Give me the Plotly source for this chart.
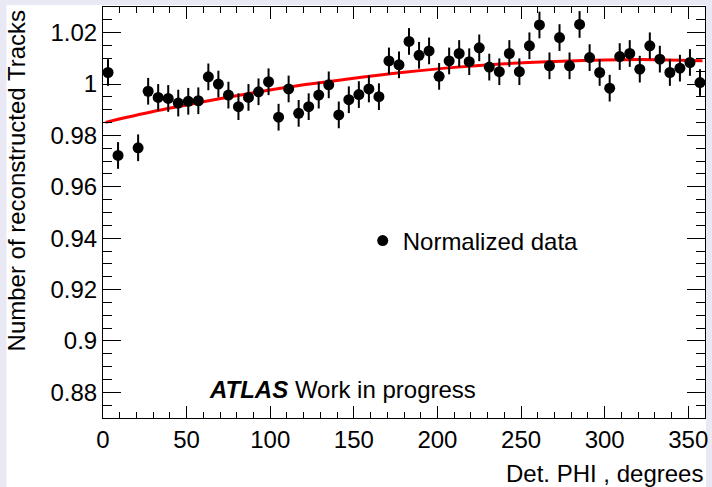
import plotly.graph_objects as go

# ---- data ----
phi = list(range(3, 360, 6))  # bin centres, 6-degree bins
norm_tracks = [1.0045, 0.9722, None, 0.9752, 0.9972, 0.9948, 0.9944, 0.9926, 0.9933, 0.9935,
               1.0028, 1.0000, 0.9957, 0.9912, 0.9948, 0.9970, 1.0009, 0.9871, 0.9981, 0.9886,
               0.9912, 0.9957, 0.9997, 0.9880, 0.9939, 0.9959, 0.9981, 0.9951, 1.0090, 1.0075,
               1.0166, 1.0112, 1.0129, 1.0030, 1.0090, 1.0119, 1.0087, 1.0141, 1.0066, 1.0048,
               1.0119, 1.0048, 1.0149, 1.0230, 1.0071, 1.0181, 1.0071, 1.0232, 1.0103, 1.0045,
               0.9984, 1.0107, 1.0119, 1.0058, 1.0149, 1.0097, 1.0045, 1.0062, 1.0084, 1.0006]
norm_err = [0.0052] * len(phi)

fit_phi = [1.5, 30, 60, 90, 120, 150, 180, 210, 240, 270, 300, 330, 358.5]
fit_val = [0.9851, 0.9893, 0.9931, 0.9966, 0.9997, 1.0023, 1.0046, 1.0065, 1.0079,
           1.0088, 1.0094, 1.0095, 1.0091]

x_tickvals = [0, 50, 100, 150, 200, 250, 300, 350]
x_ticktext = ["0", "50", "100", "150", "200", "250", "300", "350"]
y_tickvals = [0.88, 0.90, 0.92, 0.94, 0.96, 0.98, 1.00, 1.02]
y_ticktext = ["0.88", "0.9", "0.92", "0.94", "0.96", "0.98", "1", "1.02"]

FONT = "Liberation Sans, Arial, Helvetica, sans-serif"

fig = go.Figure()
fig.add_trace(go.Scatter(
    x=fit_phi, y=fit_val, mode="lines", line=dict(color="#ff0000", width=3, shape="spline"),
    showlegend=False, hoverinfo="skip"))
fig.add_trace(go.Scatter(
    x=phi, y=norm_tracks, mode="markers", name="Normalized data",
    marker=dict(color="black", size=11),
    error_y=dict(type="data", array=norm_err, color="black", thickness=2, width=0),
    showlegend=True))

W, H = 712, 487
L, R, T, B = 103, 4, 7, 69
pw, ph = W - L - R, H - T - B

def px_x(p):
    return (p - L) / pw

def px_y(p):
    return (H - B - p) / ph

fig.add_shape(type="rect", xref="paper", yref="paper",
              x0=px_x(6), x1=px_x(709), y0=px_y(H + 5), y1=px_y(5),
              fillcolor="white", line=dict(width=0), layer="below")

axis_common = dict(showline=True, linecolor="black", linewidth=1, mirror="allticks",
                   ticks="inside", tickcolor="black", tickwidth=1, showgrid=False,
                   zeroline=False, tickfont=dict(family=FONT, size=24, color="black"))

fig.update_xaxes(range=[0, 360], tickmode="array", tickvals=x_tickvals, ticktext=x_ticktext,
                 ticklen=12,
                 minor=dict(tickmode="linear", tick0=0, dtick=10, ticklen=6, ticks="inside",
                            tickcolor="black", tickwidth=1, showgrid=False),
                 **axis_common)
fig.update_yaxes(range=[0.87, 1.03], tickmode="array", tickvals=y_tickvals, ticktext=y_ticktext,
                 ticklen=18,
                 minor=dict(tickmode="linear", tick0=0.87, dtick=0.005, ticklen=9, ticks="inside",
                            tickcolor="black", tickwidth=1, showgrid=False),
                 **axis_common)

fig.add_annotation(xref="paper", yref="paper", x=px_x(16), y=px_y(181),
                   text="Number of reconstructed Tracks", textangle=-90, showarrow=False,
                   xanchor="center", yanchor="middle",
                   font=dict(family=FONT, size=24, color="black"))
fig.add_annotation(xref="paper", yref="paper", x=1.0, y=px_y(473),
                   text="Det. PHI , degrees", showarrow=False, xanchor="right", yanchor="middle",
                   font=dict(family=FONT, size=24, color="black"))
fig.add_annotation(xref="paper", yref="paper", x=px_x(208), y=px_y(389),
                   text="<b><i>ATLAS</i></b> Work in progress", showarrow=False,
                   xanchor="left", yanchor="middle",
                   font=dict(family=FONT, size=24, color="black"))

fig.update_layout(
    width=W, height=H, margin=dict(l=L, r=R, t=T, b=B),
    paper_bgcolor="#e9e9f5", plot_bgcolor="white",
    font=dict(family=FONT, size=24, color="black"),
    legend=dict(x=px_x(364), y=px_y(241), xanchor="left", yanchor="middle",
                bgcolor="rgba(0,0,0,0)", font=dict(family=FONT, size=24, color="black"),
                itemwidth=30),
)

fig.write_html("out.html", config={"displayModeBar": False},
               post_script="document.body.style.margin='0';document.body.style.overflow='hidden';")
